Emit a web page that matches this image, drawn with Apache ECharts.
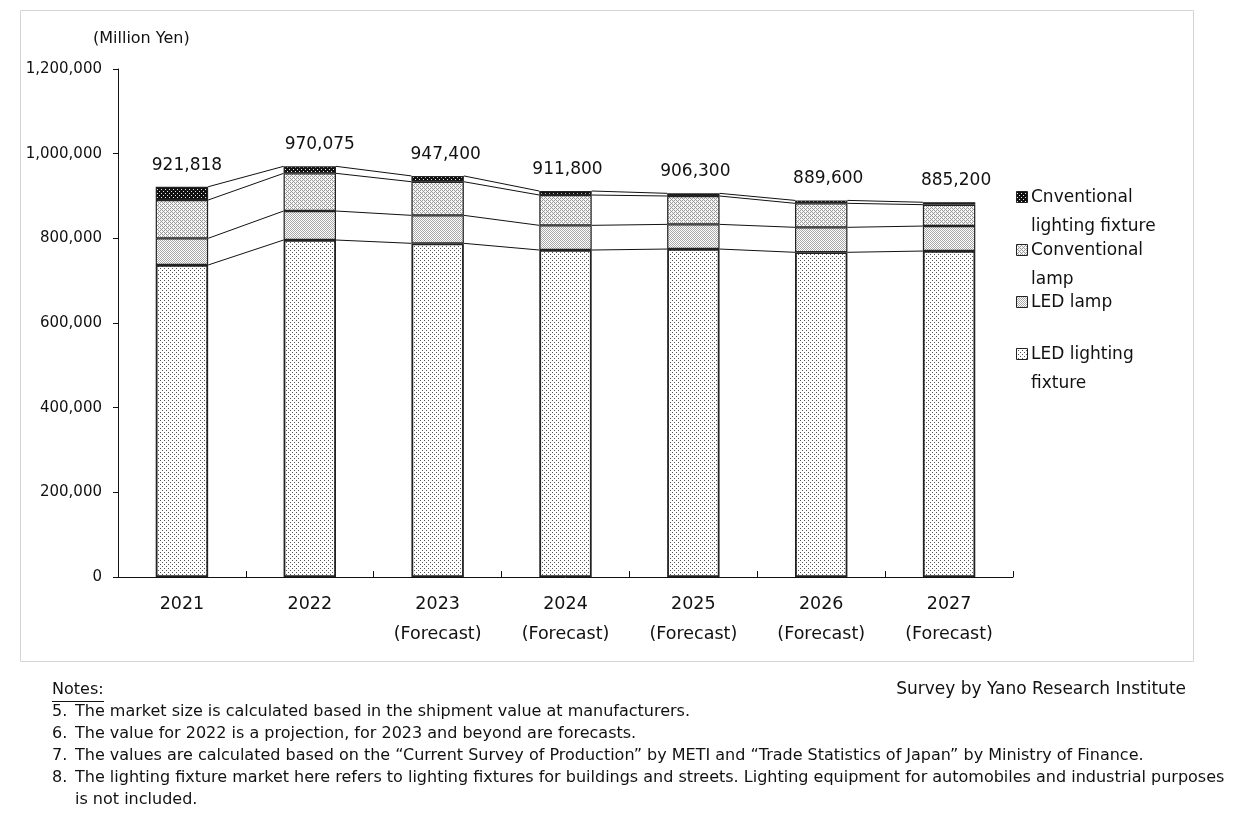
<!DOCTYPE html>
<html>
<head>
<meta charset="utf-8">
<script src="https://cdn.jsdelivr.net/npm/echarts@6/dist/echarts.min.js"></script>
<style>
html,body{margin:0;padding:0;background:#fff;}
#chart{width:1247px;height:834px;}
</style>
</head>
<body>
<div id="chart"></div>
<script>
// ---- data ----
const years = ['2021', '2022', '2023', '2024', '2025', '2026', '2027'];
const forecastFlags = [false, false, true, true, true, true, true];
const totals = [921818, 970075, 947400, 911800, 906300, 889600, 885200];
const ledFixture = [737000, 796000, 788200, 772400, 774700, 767000, 770000];
const ledLamp = [63000, 68500, 66100, 58300, 58300, 59000, 59000];
const convLamp = [90500, 89000, 79400, 71600, 67000, 56700, 50500];
const convFixture = [31318, 16575, 13700, 9500, 6300, 6900, 5700];
const seriesNames = ['LED lighting fixture', 'LED lamp', 'Conventional lamp', 'Cnventional lighting fixture'];
const legendLabels = [
  ['Cnventional', 'lighting fixture'],
  ['Conventional', 'lamp'],
  ['LED lamp'],
  ['LED lighting', 'fixture']
];
const yTicks = [0, 200000, 400000, 600000, 800000, 1000000, 1200000];
const notes = [
  ['5.', 'The market size is calculated based in the shipment value at manufacturers.'],
  ['6.', 'The value for 2022 is a projection, for 2023 and beyond are forecasts.'],
  ['7.', 'The values are calculated based on the \u201cCurrent Survey of Production\u201d by METI and \u201cTrade Statistics of Japan\u201d by Ministry of Finance.'],
  ['8.', 'The lighting fixture market here refers to lighting fixtures for buildings and streets. Lighting equipment for automobiles and industrial purposes'],
  ['', 'is not included.']
];

// ---- style / layout settings ----
const labelShiftX = [5, 10, 8, 2, 2, 7, 7];

function pat(bg, fg, pts, size) {
  const c = document.createElement('canvas');
  c.width = size; c.height = size;
  const g = c.getContext('2d');
  g.fillStyle = bg; g.fillRect(0, 0, size, size);
  g.fillStyle = fg;
  pts.forEach(p => g.fillRect(p[0], p[1], 1, 1));
  return { image: c, repeat: 'repeat' };
}
const patLedFixture = pat('#ffffff', '#555555', [[0, 0], [2, 2]], 4);
const patLedLamp = pat('#ffffff', '#a8a8a8', [[0, 0], [1, 1]], 2);
const patConvLamp = pat('#f6f6f6', '#989898', [[0, 0], [1, 1], [2, 2], [3, 3], [2, 0], [0, 2]], 4);
const patConvFixture = pat('#111111', '#e8e8e8', [[1, 1], [3, 3]], 4);
const patterns = [patLedFixture, patLedLamp, patConvLamp, patConvFixture];
const stacks = [ledFixture, ledLamp, convLamp, convFixture];

const BAR_RATIO = 0.41;
const FONT = '"DejaVu Sans", sans-serif';

const chart = echarts.init(document.getElementById('chart'), null, { renderer: 'canvas' });

function cumAt(i, level) {
  let s = 0;
  for (let k = 0; k <= level; k++) s += stacks[k][i];
  return s;
}

const barSeries = stacks.map((arr, k) => ({
  name: seriesNames[k],
  type: 'bar',
  stack: 'total',
  barWidth: (BAR_RATIO * 100) + '%',
  data: k === 3 ? arr.map((v, i) => ({ value: v, label: { offset: [labelShiftX[i], 0] } })) : arr,
  itemStyle: { color: patterns[k], borderColor: '#222', borderWidth: k === 0 ? 1.8 : 1.2 },
  label: k === 3 ? {
    show: true, position: 'top', distance: 13,
    fontFamily: FONT, fontSize: 17, color: '#111',
    formatter: p => totals[p.dataIndex].toLocaleString('en-US')
  } : { show: false },
  emphasis: { disabled: true },
  z: 3
}));

const connector = {
  type: 'custom',
  data: years.map((y, i) => [i, totals[i]]),
  encode: { x: 0, y: 1 },
  z: 2,
  silent: true,
  renderItem: function (params, api) {
    const i = params.dataIndex;
    if (i >= years.length - 1) return null;
    const bw = api.size([1, 0])[0] * BAR_RATIO;
    const children = [];
    for (let lv = 0; lv < 4; lv++) {
      const a = api.coord([i, cumAt(i, lv)]);
      const b = api.coord([i + 1, cumAt(i + 1, lv)]);
      children.push({
        type: 'line',
        shape: { x1: a[0] + bw / 2, y1: a[1], x2: b[0] - bw / 2, y2: b[1] },
        style: { stroke: '#111', lineWidth: 1 }
      });
    }
    return { type: 'group', children: children };
  }
};

// ---- graphics: frame, unit, legend, notes ----
const graphics = [];
graphics.push({
  type: 'rect', silent: true,
  shape: { x: 20.5, y: 10.5, width: 1173, height: 651 },
  style: { fill: 'none', stroke: '#d4d4d4', lineWidth: 1 }
});
graphics.push({
  type: 'text', left: 93, top: 31,
  style: { text: '(Million Yen)', font: '16px ' + FONT, fill: '#111' }
});
const legendFills = [patConvFixture, patConvLamp, patLedLamp, patLedFixture];
const legendTops = [196, 249, 301, 353];
legendLabels.forEach((lines, k) => {
  graphics.push({
    type: 'rect',
    shape: { x: 1016.5, y: legendTops[k] - 4.5, width: 11, height: 11 },
    style: { fill: legendFills[k], stroke: '#222', lineWidth: 1 }
  });
  lines.forEach((t, j) => {
    graphics.push({
      type: 'text', left: 1031, top: legendTops[k] - 7 + j * 29,
      style: { text: t, font: '17px ' + FONT, fill: '#111' }
    });
  });
});
graphics.push({
  type: 'text', left: 52, top: 682,
  style: { text: 'Notes:', font: '16px ' + FONT, fill: '#111' }
});
graphics.push({
  type: 'line', silent: true,
  shape: { x1: 52, y1: 701.5, x2: 104, y2: 701.5 },
  style: { stroke: '#111', lineWidth: 1 }
});
graphics.push({
  type: 'text', right: 1247 - 1186, top: 681,
  style: { text: 'Survey by Yano Research Institute', font: '17px ' + FONT, fill: '#111' }
});
notes.forEach((n, k) => {
  const top = 704 + k * 22;
  if (n[0]) graphics.push({ type: 'text', left: 52, top: top, style: { text: n[0], font: '16px ' + FONT, fill: '#111' } });
  graphics.push({ type: 'text', left: 75, top: top, style: { text: n[1], font: '16px ' + FONT, fill: '#111' } });
});

const option = {
  backgroundColor: '#ffffff',
  animation: false,
  grid: { left: 118, right: 234, top: 69, bottom: 257, containLabel: false },
  xAxis: {
    type: 'category',
    data: years,
    boundaryGap: true,
    axisLine: { lineStyle: { color: '#111', width: 1 } },
    axisTick: { show: true, inside: true, length: 6, lineStyle: { color: '#111' } },
    axisLabel: {
      margin: 12, fontFamily: FONT, fontSize: 17.5, color: '#111', lineHeight: 30,
      formatter: (v, i) => forecastFlags[i] ? v + '\n(Forecast)' : v
    },
    splitLine: { show: false }
  },
  yAxis: {
    type: 'value',
    min: 0, max: 1200000, interval: 200000,
    axisLine: { show: true, lineStyle: { color: '#111', width: 1 } },
    axisTick: { show: true, length: 5, lineStyle: { color: '#111' } },
    axisLabel: {
      margin: 16, fontFamily: FONT, fontSize: 15, color: '#111',
      formatter: v => yTicks.indexOf(v) >= 0 ? v.toLocaleString('en-US') : ''
    },
    splitLine: { show: false }
  },
  series: barSeries.concat([connector]),
  graphic: graphics
};
chart.setOption(option);
</script>
</body>
</html>
